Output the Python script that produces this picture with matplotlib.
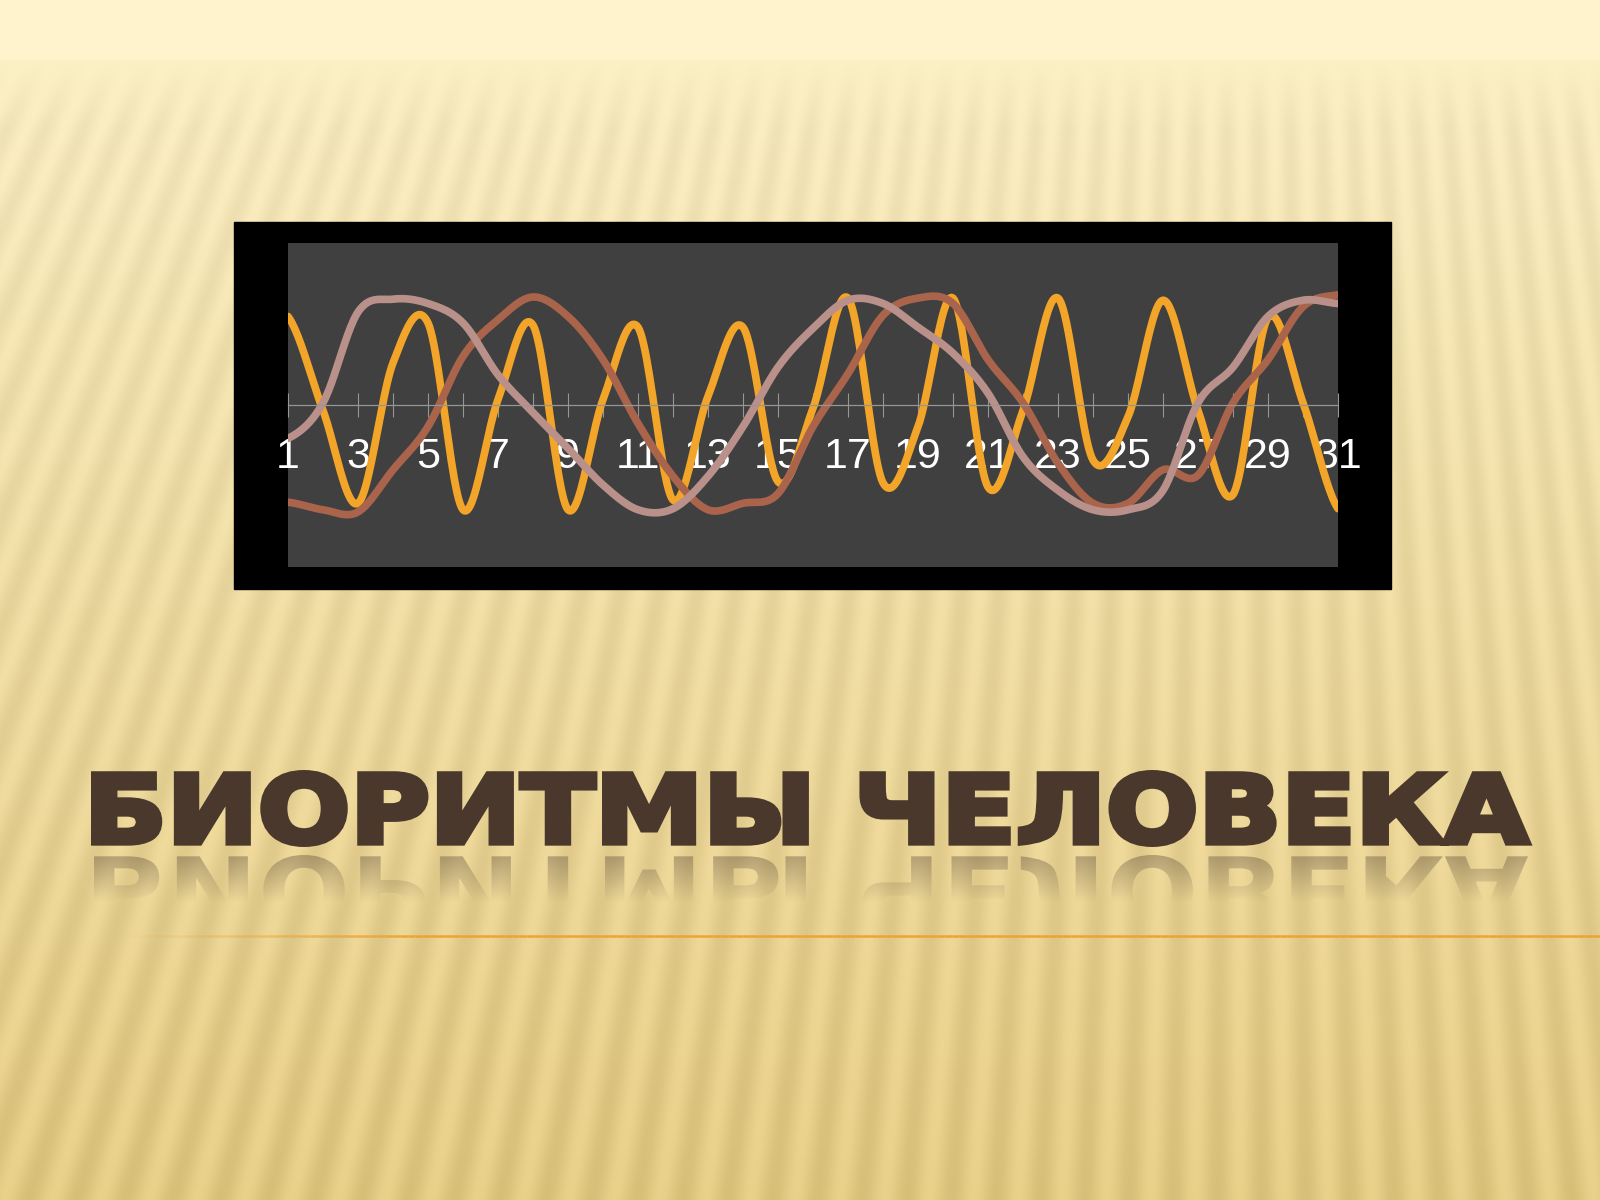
import numpy as np
import matplotlib
matplotlib.use("Agg")
import matplotlib.pyplot as plt
from matplotlib.textpath import TextPath
from matplotlib.font_manager import FontProperties
from matplotlib.patches import PathPatch, Rectangle
from matplotlib.transforms import Affine2D
from matplotlib.collections import LineCollection

# --- data ---
days = np.arange(1, 32)
orange_values = [0.82, -0.05, -0.91, 0.39, 0.76, -0.97, 0.05, 0.74, -0.97, 0.05,
                 0.72, -0.88, 0.08, 0.72, -0.71, -0.03, 0.99, -0.72, -0.20, 0.99,
                 -0.76, -0.05, 0.99, -0.51, -0.11, 0.97, -0.05, -0.83, 0.81, 0.02,
                 -0.96]
brown_values = [-0.90, -0.97, -0.99, -0.60, -0.20, 0.45, 0.79, 1.00, 0.82, 0.42,
                -0.17, -0.66, -0.97, -0.91, -0.82, -0.20, 0.29, 0.83, 0.99, 0.94,
                0.42, 0.02, -0.54, -0.91, -0.91, -0.60, -0.65, 0.02, 0.42, 0.91,
                1.02]
mauve_values = [-0.31, 0.02, 0.86, 0.98, 0.94, 0.76, 0.28, -0.07, -0.40, -0.74,
                -0.97, -0.96, -0.66, -0.20, 0.35, 0.71, 0.97, 0.94, 0.72, 0.48,
                0.11, -0.48, -0.79, -0.97, -0.97, -0.79, 0.02, 0.35, 0.82, 0.97,
                0.94]
title = "БИОРИТМЫ ЧЕЛОВЕКА"

W, H = 1600, 1200


def smooth(x, y, n=24):
    # catmull-rom through the points, like a "smoothed line" in office charts
    x = np.asarray(x, float)
    y = np.asarray(y, float)
    p = np.concatenate([[y[0]], y, [y[-1]]])
    xs, ys = [], []
    t = np.linspace(0, 1, n, endpoint=False)
    for i in range(len(y) - 1):
        p0, p1 = p[i + 1], p[i + 2]
        m0 = (p[i + 2] - p[i]) / 2
        m1 = (p[i + 3] - p[i + 1]) / 2
        h00 = 2 * t**3 - 3 * t**2 + 1
        h10 = t**3 - 2 * t**2 + t
        h01 = -2 * t**3 + 3 * t**2
        h11 = t**3 - t**2
        xs.append(x[i] + t * (x[i + 1] - x[i]))
        ys.append(h00 * p0 + h10 * m0 + h01 * p1 + h11 * m1)
    xs.append([x[-1]])
    ys.append([y[-1]])
    return np.concatenate(xs), np.concatenate(ys)


# --- slide background ---
yy, xx = np.mgrid[0:H, 0:W].astype(float)
t = yy / H
top = np.array([253, 242, 202]) / 255
bot = np.array([234, 209, 138]) / 255
base = top + (bot - top) * t[..., None] ** 0.9
ang = np.arctan2(xx - 1250, yy + 2600)
stripe = 0.5 + 0.5 * np.sin(ang * 540)
amp = np.clip((yy - 58) / 70, 0, 1) * (0.04 + 0.03 * t)
img = base - (amp * stripe)[..., None]
img[yy < 60] = np.array([254, 243, 204]) / 255
img = np.clip(img, 0, 1)

fig = plt.figure(figsize=(16, 12), dpi=100)
bg = fig.add_axes([0, 0, 1, 1])
bg.imshow(img, extent=[0, W, H, 0], interpolation="bilinear")
bg.axis("off")

# black chart frame
bg.add_patch(Rectangle((234, 222), 1157, 367, color="black", zorder=2))

# title, fitted into its box and thickened with an outline
fp = FontProperties(family="DejaVu Sans", weight="bold")
tp = TextPath((0, 0), title, size=100, prop=fp)
bb = tp.get_extents()
edge = 3.0
x0, x1 = 91 + edge, 1531 - edge
ytop, ybase = 770 + edge, 847 - edge
sx = (x1 - x0) / bb.width
sy = (ybase - ytop) / bb.height
tr = Affine2D().translate(-bb.x0, -bb.y0).scale(sx, -sy).translate(x0, ybase)
bg.add_patch(PathPatch(tr.transform_path(tp), facecolor="#4a382c",
                       edgecolor="#4a382c", lw=edge * 2 * 0.72,
                       joinstyle="miter", zorder=3))

# reflection
tr_r = Affine2D().translate(-bb.x0, -bb.y0).scale(sx, sy).translate(x0, 855)
refl = PathPatch(tr_r.transform_path(tp), facecolor="none", edgecolor="none")
bg.add_patch(refl)
grad = np.zeros((100, 2, 4))
grad[..., :3] = np.array([80, 64, 50]) / 255
a = np.clip(1 - np.linspace(0, 1, 100) * 1.6, 0, 1) * 0.4
grad[..., 3] = a[:, None]
gi = bg.imshow(grad, extent=[80, 1545, 932, 852], interpolation="bilinear",
               aspect="auto", zorder=2)
gi.set_clip_path(refl)

# thin orange rule
lx = np.linspace(117, 1600, 200)
segs = [[(lx[i], 936), (lx[i + 1], 936)] for i in range(len(lx) - 1)]
alphas = np.clip((lx[:-1] - 117) / 300, 0, 1)
cols = [(0.93, 0.64, 0.2, al) for al in alphas]
bg.add_collection(LineCollection(segs, colors=cols, linewidths=1.8, zorder=2))

bg.set_xlim(0, W)
bg.set_ylim(H, 0)

# --- the chart ---
ax = fig.add_axes([288 / W, 1 - 567 / H, 1050 / W, 324 / H])
ax.set_facecolor("#404040")
for vals, col in [(orange_values, "#f2a528"),
                  (brown_values, "#aa644b"),
                  (mauve_values, "#b9918a")]:
    sx_, sy_ = smooth(days, vals)
    ax.plot(sx_, sy_, color=col, lw=5.5, solid_capstyle="round")

ax.set_xlim(1, 31)
ax.set_ylim(-1.5, 1.5)
for s in ["top", "right", "left"]:
    ax.spines[s].set_visible(False)
ax.spines["bottom"].set_position(("data", 0))
ax.spines["bottom"].set_color("#969696")
ax.spines["bottom"].set_linewidth(0.9)
ax.set_yticks([])
ax.set_xticks(days[::2])
ax.set_xticks(days[1::2], minor=True)
ax.set_xticklabels([str(d) for d in days[::2]], family="Liberation Sans")
ax.tick_params(axis="x", which="both", direction="inout", length=17,
               width=0.8, color="#969696")
ax.tick_params(axis="x", which="major", labelsize=31, labelcolor="white",
               pad=14.5)

fig.savefig("out.png", dpi=100)
